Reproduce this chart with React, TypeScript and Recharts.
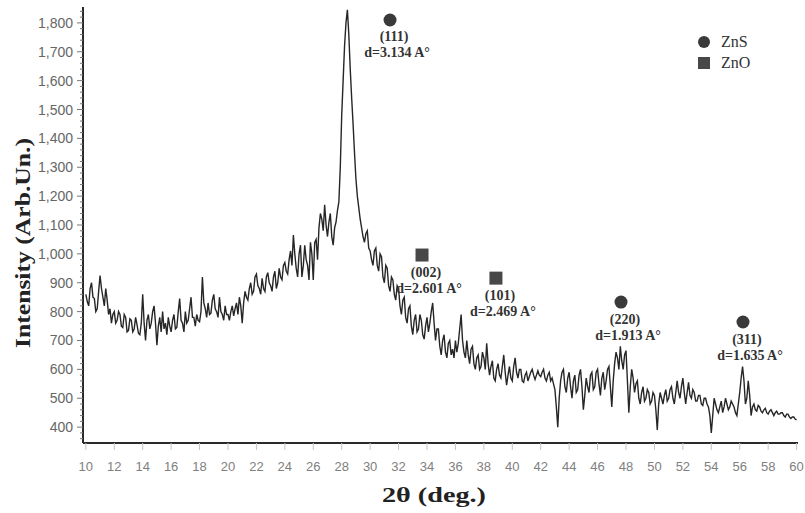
import React from "react";
import { LineChart, Line, XAxis, YAxis, ReferenceDot } from "recharts";

// 2θ sampling grid: 10° → 60° every 0.1°
const START = 10;
const STEP = 0.1;

// intensity, one 2° stretch per row
const int10to20 = [
  860, 835, 820, 880, 900, 850, 845, 800, 810, 870, 925, 880, 850, 820, 880, 840, 790, 810, 760, 790,
  800, 760, 770, 800, 790, 750, 745, 790, 780, 730, 735, 775, 770, 730, 740, 780, 755, 725, 720, 760,
  860, 760, 700, 770, 790, 740, 760, 800, 820, 760, 684, 750, 780, 730, 800, 740, 760, 720, 780, 750,
  730, 770, 790, 740, 745, 800, 845, 770, 760, 730, 800, 760, 770, 810, 850, 780, 780, 750, 790, 770,
  765, 800, 920, 830, 810, 780, 830, 790, 795, 840, 860, 810, 800, 780, 850, 800, 790, 770, 820, 790,
];
const int20to30 = [
  790, 770, 800, 820, 785, 810, 830, 790, 850, 820, 760, 830, 870, 850, 840, 880, 900, 860, 870, 920,
  930, 890, 880, 860, 915, 880, 870, 920, 935, 900, 890, 870, 920, 940, 880, 900, 950, 920, 910, 960,
  970, 940, 930, 980, 1010, 960, 1065, 1000, 950, 920, 1000, 1030, 920, 960, 1030, 980, 960, 910, 1040, 1000,
  910, 1040, 1050, 980, 1090, 1140, 1120, 1080, 1170, 1100, 1060, 1110, 1140, 1060, 1030, 1090, 1110, 1150, 1180, 1300,
  1480, 1600, 1720, 1800, 1845, 1760, 1640, 1540, 1450, 1350, 1260, 1200, 1160, 1120, 1090, 1060, 1040, 1070, 1080, 1020,
];
const int30to40 = [
  1010, 980, 960, 1010, 1020, 960, 940, 1000, 990, 920, 900, 960, 950, 890, 870, 920, 910, 860, 840, 890,
  880, 820, 790, 840, 850, 780, 760, 810, 820, 750, 720, 770, 790, 730, 740, 790, 770, 720, 705, 750,
  780, 730, 760, 800, 830, 760, 700, 740, 740, 680, 650, 700, 720, 660, 640, 690, 700, 650, 670, 640,
  700, 660, 690, 740, 790, 700, 660, 640, 700, 650, 620, 670, 680, 620, 600, 640, 650, 600, 610, 660,
  640, 600, 690, 620, 580, 610, 630, 570, 560, 600, 620, 580, 570, 610, 650, 590, 545, 580, 610, 570,
];
const int40to50 = [
  560, 610, 640, 590, 570, 600, 600, 560, 555, 580, 590, 560, 575, 590, 600, 580, 565, 580, 595, 580,
  575, 590, 600, 570, 560, 580, 590, 560, 570, 550, 530, 470, 400, 500, 560, 590, 600, 540, 520, 570,
  590, 540, 500, 560, 580, 520, 530, 580, 600, 540, 460, 510, 570, 540, 520, 580, 590, 530, 540, 590,
  600, 550, 510, 570, 590, 530, 560, 600, 610, 540, 470, 560, 620, 660, 640, 600, 680, 630, 600, 650,
  665, 560, 450, 540, 600, 570, 520, 550, 560, 500, 480, 520, 540, 490, 500, 530, 520, 480, 490, 520,
];
const int50to60 = [
  510, 460, 390, 480, 520, 500, 480, 510, 530, 490, 500, 530, 540, 500, 480, 520, 560, 520, 500, 540,
  570, 520, 480, 520, 555, 510, 500, 530, 520, 490, 490, 510, 510, 480, 475, 500, 500, 480, 470, 440,
  380, 440, 500, 480, 460, 450, 470, 490, 450, 470, 500, 480, 460, 470, 490, 480, 470, 450, 440, 480,
  520, 570, 610, 560, 480, 500, 560, 510, 440, 470, 480, 460, 455, 475, 470, 455, 450, 460, 465, 450,
  445, 455, 460, 450, 440, 450, 455, 445, 445, 450, 450, 440, 435, 445, 445, 435, 430, 435, 435, 428, 425,
];

const xTicks = [10, 12, 14, 16, 18, 20, 22, 24, 26, 28, 30, 32, 34, 36, 38, 40, 42, 44, 46, 48, 50, 52, 54, 56, 58, 60];

// peak markers: phase, Miller index, d-spacing, marker anchor (2θ, intensity)
const peakPhase = ["ZnS", "ZnO", "ZnO", "ZnS", "ZnS"];
const peakHkl = ["(111)", "(002)", "(101)", "(220)", "(311)"];
const peakD = ["d=3.134 A°", "d=2.601 A°", "d=2.469 A°", "d=1.913 A°", "d=1.635 A°"];
const peakAt = [31.4, 33.65, 38.85, 47.65, 56.23];
const peakLevel = [1810, 996, 916, 833, 764];

const intensity = [...int10to20, ...int20to30, ...int30to40, ...int40to50, ...int50to60];
const data = intensity.map((v, i) => ({ tt: +(START + i * STEP).toFixed(1), v }));

const yTicks: number[] = [];
for (let t = 360; t <= 1840; t += 20) yTicks.push(t);

const INK = "#2a2a2a";
const SERIF = "'Liberation Serif', 'Times New Roman', serif";
const SANS = "'Liberation Sans', Arial, sans-serif";

function YTick(props: any) {
  const { x, y, payload } = props;
  const major = payload.value % 100 === 0;
  return (
    <g>
      <line x1={x - (major ? 6 : 3)} x2={x} y1={y} y2={y} stroke="#777" strokeWidth={1} />
      {major && (
        <text x={x - 10} y={y} textAnchor="end" dominantBaseline="central" fontFamily={SANS} fontSize={14} fill="#666">
          {payload.value.toLocaleString("en-US")}
        </text>
      )}
    </g>
  );
}

function PeakMark(props: any) {
  const { cx, cy, phase, hkl, d } = props;
  const txt = { fontFamily: SERIF, fontSize: 14, fontWeight: 700, fill: "#333", textAnchor: "middle" as const, dominantBaseline: "central" as const };
  return (
    <g>
      {phase === "ZnS" ? (
        <circle cx={cx} cy={cy} r={6.5} fill="#3a3a3a" />
      ) : (
        <rect x={cx - 6.5} y={cy - 6.5} width={13} height={13} fill="#484848" />
      )}
      <text x={cx + 4} y={cy + 17} {...txt}>{hkl}</text>
      <text x={cx + 7} y={cy + 33} {...txt}>{d}</text>
    </g>
  );
}

function PhaseLegend() {
  const row = { display: "flex", alignItems: "center", height: 21, fontFamily: SERIF, fontSize: 16, color: "#333" };
  return (
    <div style={{ position: "absolute", left: 697, top: 31 }}>
      <div style={row}>
        <svg width={14} height={14} style={{ marginRight: 10 }}><circle cx={7} cy={7} r={6} fill="#3a3a3a" /></svg>
        ZnS
      </div>
      <div style={row}>
        <svg width={14} height={14} style={{ marginRight: 10 }}><rect x={1} y={1} width={12} height={12} fill="#484848" /></svg>
        ZnO
      </div>
    </div>
  );
}

export default function App() {
  return (
    <div style={{ position: "absolute", left: 0, top: 0, width: 805, height: 513, background: "#fff" }}>
      <LineChart width={805} height={513} data={data} margin={{ top: 7, right: 7, bottom: 0, left: 0 }}>
        <XAxis
          dataKey="tt"
          type="number"
          domain={[9.8, 60.1]}
          ticks={xTicks}
          allowDataOverflow
          height={70}
          axisLine={{ stroke: INK, strokeWidth: 2 }}
          tickLine={{ stroke: "#c4c4c4" }}
          tickSize={7}
          tickMargin={12}
          tick={{ fontFamily: SANS, fontSize: 13, fill: "#808080" }}
          label={{
            content: () => (
              <text x={434} y={494} textAnchor="middle" dominantBaseline="central" fontFamily={SERIF} fontWeight={700} fontSize={22} fill="#222" textLength={104} lengthAdjust="spacingAndGlyphs">
                2θ (deg.)
              </text>
            ),
          }}
        />
        <XAxis xAxisId="top" orientation="top" type="number" domain={[9.8, 60.1]} height={0} tick={false} tickLine={false} axisLine={{ stroke: INK, strokeWidth: 2 }} />
        <YAxis
          type="number"
          domain={[345, 1855]}
          ticks={yTicks}
          allowDataOverflow
          interval={0}
          width={83}
          axisLine={{ stroke: INK, strokeWidth: 2 }}
          tickLine={false}
          tickSize={0}
          tickMargin={0}
          tick={<YTick />}
          label={{
            content: () => (
              <text x={22} y={243} transform="rotate(-90, 22, 243)" textAnchor="middle" dominantBaseline="central" fontFamily={SERIF} fontWeight={700} fontSize={22} fill="#222" textLength={210} lengthAdjust="spacingAndGlyphs">
                Intensity (Arb.Un.)
              </text>
            ),
          }}
        />
        <YAxis yAxisId="right" orientation="right" type="number" domain={[345, 1855]} width={0} tick={false} tickLine={false} axisLine={{ stroke: "#555", strokeWidth: 1.5 }} />
        <Line dataKey="v" type="linear" stroke="#262626" strokeWidth={1.4} dot={false} isAnimationActive={false} />
        {peakAt.map((at, i) => (
          <ReferenceDot
            key={peakHkl[i]}
            x={at}
            y={peakLevel[i]}
            ifOverflow="visible"
            shape={(p: any) => <PeakMark {...p} phase={peakPhase[i]} hkl={peakHkl[i]} d={peakD[i]} />}
          />
        ))}
      </LineChart>
      <PhaseLegend />
    </div>
  );
}
